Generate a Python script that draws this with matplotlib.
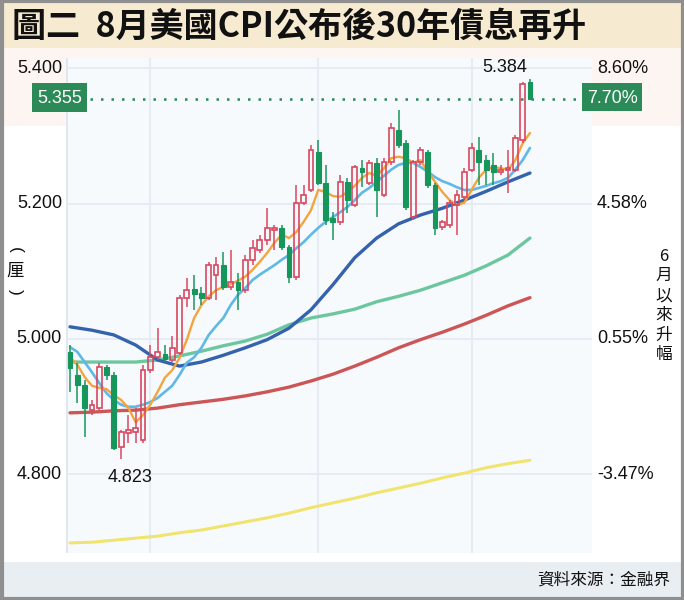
import matplotlib
matplotlib.use("Agg")
import matplotlib.pyplot as plt
from matplotlib.patches import Rectangle
import matplotlib.transforms as mtransforms
import numpy as np

plt.rcParams['font.family'] = ['Liberation Sans', 'Noto Sans CJK TC', 'DejaVu Sans']

TITLE = "圖二  8月美國CPI公布後30年債息再升"
SOURCE = "資料來源：金融界"
Y_UNIT = ["(", "厘", ")"]
RIGHT_LABEL = ["6", "月", "以", "來", "升", "幅"]

OPEN = [4.981, 4.947, 4.932, 4.895, 4.898, 4.959, 4.947, 4.841, 4.861, 4.863,
        4.851, 4.954, 4.973, 4.978, 4.969, 4.979, 5.061, 5.074, 5.068, 5.061,
        5.094, 5.109, 5.077, 5.084, 5.072, 5.117, 5.131, 5.146, 5.161, 5.164,
        5.136, 5.092, 5.201, 5.220, 5.276, 5.230, 5.179, 5.173, 5.232, 5.198,
        5.252, 5.230, 5.260, 5.213, 5.261, 5.308, 5.289, 5.180, 5.261, 5.276,
        5.227, 5.165, 5.168, 5.198, 5.210, 5.249, 5.279, 5.264, 5.257, 5.247,
        5.249, 5.249, 5.294, 5.379]
HIGH = [4.991, 4.965, 4.940, 4.910, 4.965, 4.962, 4.951, 4.866, 4.888, 4.898,
        4.962, 4.991, 5.016, 4.991, 5.004, 5.065, 5.090, 5.094, 5.077, 5.114,
        5.121, 5.128, 5.131, 5.097, 5.124, 5.146, 5.154, 5.193, 5.168, 5.168,
        5.139, 5.227, 5.227, 5.286, 5.294, 5.257, 5.187, 5.242, 5.238, 5.257,
        5.264, 5.264, 5.267, 5.267, 5.319, 5.338, 5.294, 5.264, 5.283, 5.279,
        5.230, 5.176, 5.205, 5.220, 5.252, 5.289, 5.298, 5.272, 5.275, 5.257,
        5.279, 5.301, 5.380, 5.384]
LOW = [4.922, 4.906, 4.855, 4.888, 4.895, 4.940, 4.836, 4.823, 4.847, 4.847,
       4.847, 4.950, 4.969, 4.966, 4.966, 4.976, 5.047, 5.043, 5.050, 5.058,
       5.058, 5.072, 5.072, 5.043, 5.068, 5.109, 5.127, 5.139, 5.131, 5.131,
       5.083, 5.087, 5.198, 5.217, 5.227, 5.168, 5.146, 5.168, 5.186, 5.195,
       5.224, 5.227, 5.180, 5.210, 5.257, 5.282, 5.190, 5.176, 5.257, 5.223,
       5.154, 5.161, 5.164, 5.154, 5.205, 5.247, 5.227, 5.227, 5.227, 5.242,
       5.216, 5.247, 5.289, 5.353]
CLOSE = [4.957, 4.932, 4.898, 4.903, 4.959, 4.947, 4.839, 4.863, 4.866, 4.869,
         4.954, 4.973, 4.981, 4.970, 4.987, 5.061, 5.072, 5.066, 5.061, 5.109,
         5.109, 5.077, 5.084, 5.072, 5.117, 5.134, 5.146, 5.164, 5.164, 5.136,
         5.092, 5.201, 5.213, 5.279, 5.230, 5.176, 5.173, 5.232, 5.205, 5.254,
         5.247, 5.260, 5.220, 5.261, 5.311, 5.286, 5.195, 5.261, 5.279, 5.227,
         5.164, 5.173, 5.201, 5.213, 5.247, 5.282, 5.261, 5.249, 5.247, 5.249,
         5.252, 5.297, 5.376, 5.355]

MA5 = [4.973, 4.962, 4.944, 4.931, 4.928, 4.926, 4.917, 4.910, 4.898, 4.877,
       4.888, 4.903, 4.922, 4.943, 4.954, 4.972, 4.999, 5.031, 5.050, 5.063,
       5.072, 5.077, 5.081, 5.086, 5.092, 5.102, 5.114, 5.127, 5.142, 5.154,
       5.149, 5.158, 5.173, 5.190, 5.220, 5.217, 5.211, 5.210, 5.217, 5.226,
       5.238, 5.245, 5.241, 5.252, 5.267, 5.269, 5.267, 5.260, 5.264, 5.247,
       5.232, 5.217, 5.205, 5.198, 5.201, 5.220, 5.238, 5.250, 5.254, 5.252,
       5.250, 5.264, 5.289, 5.304]
MA10 = [4.988, 4.981, 4.966, 4.951, 4.935, 4.920, 4.910, 4.903, 4.900, 4.900,
        4.903, 4.907, 4.913, 4.922, 4.931, 4.947, 4.965, 4.973, 4.987, 5.006,
        5.019, 5.031, 5.050, 5.065, 5.075, 5.087, 5.095, 5.102, 5.109, 5.117,
        5.124, 5.134, 5.143, 5.154, 5.164, 5.173, 5.180, 5.187, 5.195, 5.205,
        5.216, 5.223, 5.232, 5.241, 5.250, 5.257, 5.260, 5.260, 5.254, 5.247,
        5.239, 5.233, 5.229, 5.224, 5.220, 5.220, 5.223, 5.226, 5.230, 5.233,
        5.238, 5.250, 5.264, 5.282]
LONG_MA_IDX = [0, 3, 6, 9, 12, 15, 18, 21, 24, 27, 30, 33, 36, 39, 42, 45,
               48, 51, 54, 57, 60, 63]
MA20 = [5.018, 5.013, 5.006, 4.991, 4.969, 4.960, 4.966, 4.976, 4.987, 4.999,
        5.016, 5.043, 5.080, 5.120, 5.149, 5.170, 5.183, 5.193, 5.205, 5.218,
        5.232, 5.245]
MA60 = [4.966, 4.966, 4.966, 4.966, 4.969, 4.975, 4.982, 4.990, 4.997, 5.007,
        5.021, 5.031, 5.037, 5.044, 5.055, 5.063, 5.072, 5.083, 5.094, 5.108,
        5.124, 5.149]
MA120 = [4.891, 4.892, 4.894, 4.895, 4.898, 4.903, 4.907, 4.911, 4.916, 4.922,
         4.929, 4.938, 4.948, 4.960, 4.973, 4.987, 4.999, 5.010, 5.022, 5.035,
         5.049, 5.061]
MA250 = [4.699, 4.700, 4.703, 4.706, 4.709, 4.714, 4.718, 4.724, 4.730, 4.736,
         4.743, 4.751, 4.758, 4.765, 4.773, 4.780, 4.787, 4.795, 4.802, 4.810,
         4.816, 4.821]

LEFT_TICKS = [5.4, 5.2, 5.0, 4.8]
LEFT_TICK_LABELS = ["5.400", "5.200", "5.000", "4.800"]
RIGHT_TICK_LABELS = ["8.60%", "4.58%", "0.55%", "-3.47%"]
LAST_PRICE = 5.355
LAST_PRICE_LABEL = "5.355"
LAST_PCT_LABEL = "7.70%"
HIGH_LABEL = "5.384"
LOW_LABEL = "4.823"
MONTH_IDX = [11, 34, 55]

RED = '#d8485f'
GREEN = '#17965b'
BOXGREEN = '#2b8a57'

W, H = 684, 600
fig = plt.figure(figsize=(W / 100, H / 100), dpi=100)
fig.patch.set_facecolor('white')


def fx(px):
    return px / W


def fy(py):
    return 1 - py / H


def frect(x0, y0, x1, y1, **kw):
    r = Rectangle((fx(x0), fy(y1)), fx(x1) - fx(x0), fy(y0) - fy(y1),
                  transform=fig.transFigure, **kw)
    fig.add_artist(r)
    return r


# background bands
frect(0, 48, W, 126, facecolor='#fdf5f2', edgecolor='none', zorder=-2)
frect(3, 3, W - 3, 48, facecolor='#f6ebd1', edgecolor='none', zorder=-1)
frect(3, 562, W - 3, H - 3, facecolor='#e9eef3', edgecolor='none', zorder=-1)

ax = fig.add_axes([fx(66), fy(553), fx(592) - fx(66), fy(58) - fy(553)])
ax.set_facecolor('#f7fafd')
ax.set_xlim(-0.55, 71.5)
ax.set_ylim(4.6841, 5.4148)
for s in ax.spines.values():
    s.set_visible(False)
ax.set_xticks([])
ax.set_yticks([])
ax.axvline(-0.45, color='#dce4ee', lw=1.2, zorder=0.5)

for v in LEFT_TICKS:
    ax.axhline(v, color='#e3eaf3', lw=1.2, zorder=0.5)
for m in MONTH_IDX:
    ax.axvline(m, color='#e3eaf3', lw=1.2, zorder=0.5)

n = len(OPEN)
xs = np.arange(n)
o, h, l, c = (np.array(a) for a in (OPEN, HIGH, LOW, CLOSE))

# moving averages
ax.plot(LONG_MA_IDX, MA250, color='#f1e46e', lw=2.2, zorder=2, solid_capstyle='round')
ax.plot(LONG_MA_IDX, MA120, color='#cc5656', lw=2.4, zorder=2, solid_capstyle='round')
ax.plot(LONG_MA_IDX, MA60, color='#6cc79f', lw=2.4, zorder=2, solid_capstyle='round')
ax.plot(LONG_MA_IDX, MA20, color='#3462ad', lw=2.4, zorder=2, solid_capstyle='round')
ax.plot(xs, MA10, color='#5fb8e6', lw=1.9, zorder=2, solid_capstyle='round')
ax.plot(xs, MA5, color='#f4a43f', lw=1.7, zorder=2, solid_capstyle='round')

# candles
bw = 0.66
for i in range(n):
    top = max(o[i], c[i])
    bot = min(o[i], c[i])
    hgt = max(top - bot, 0.0018)
    if c[i] >= o[i]:
        ax.vlines(i, bot + hgt, h[i], color=RED, lw=1.1, zorder=4)
        ax.vlines(i, l[i], bot, color=RED, lw=1.1, zorder=4)
        ax.add_patch(Rectangle((i - bw / 2, bot), bw, hgt, facecolor='none',
                               edgecolor=RED, lw=1.2, zorder=4))
    else:
        ax.vlines(i, l[i], h[i], color=GREEN, lw=1.1, zorder=4)
        ax.add_patch(Rectangle((i - bw / 2, bot), bw, hgt, facecolor=GREEN,
                               edgecolor=GREEN, lw=0.8, zorder=4))

# high / low labels
ih = int(np.argmax(h))
il = int(np.argmin(l))
ax.annotate(HIGH_LABEL, xy=(ih, h[ih]), xytext=(-18, 8), textcoords='offset points',
            ha='center', va='center', fontsize=13, color='#111111', zorder=6)
ax.annotate(LOW_LABEL, xy=(il, l[il]), xytext=(6.5, -13.5), textcoords='offset points',
            ha='center', va='center', fontsize=13, color='#111111', zorder=6)

# dotted last price line
bl = mtransforms.blended_transform_factory(fig.transFigure, ax.transData)
ax.plot([fx(90), fx(580)], [LAST_PRICE, LAST_PRICE], transform=bl, clip_on=False,
        color=BOXGREEN, lw=1.8, linestyle=(0, (1, 3.2)), zorder=5)

# axis labels
for v, lab, rlab in zip(LEFT_TICKS, LEFT_TICK_LABELS, RIGHT_TICK_LABELS):
    fig.text(fx(62), v, lab, transform=bl, ha='right', va='center', fontsize=13,
             color='#111111')
    fig.text(fx(597), v, rlab, transform=bl, ha='left', va='center', fontsize=13,
             color='#111111')

# last price boxes
frect(32, 83, 87, 112, facecolor=BOXGREEN, edgecolor='none', zorder=6)
fig.text(fx(59.5), LAST_PRICE, LAST_PRICE_LABEL, transform=bl, ha='center',
         va='center', fontsize=13, color='white', zorder=7)
frect(582, 83, 642, 111, facecolor=BOXGREEN, edgecolor='none', zorder=6)
fig.text(fx(612), LAST_PRICE, LAST_PCT_LABEL, transform=bl, ha='center',
         va='center', fontsize=13, color='white', zorder=7)

# unit label (vertical)
fig.text(fx(15), fy(250), Y_UNIT[0], rotation=-90, ha='center', va='center',
         fontsize=12.5, color='#111111')
fig.text(fx(15), fy(271), Y_UNIT[1], ha='center', va='center',
         fontsize=12.5, color='#111111', family=['Noto Sans CJK TC'])
fig.text(fx(15), fy(292), Y_UNIT[2], rotation=-90, ha='center', va='center',
         fontsize=12.5, color='#111111')

# right vertical label
for k, ch in enumerate(RIGHT_LABEL):
    fig.text(fx(664), fy(256 + 19.8 * k), ch, ha='center', va='center',
             fontsize=12, color='#111111', family=['Noto Sans CJK TC', 'DejaVu Sans'])

# title & source
fig.text(fx(12), fy(26), TITLE, ha='left', va='center', fontsize=24.5,
         fontweight='black', color='#111111', family=['Noto Sans CJK TC', 'DejaVu Sans'])
fig.text(fx(670), fy(580), SOURCE, ha='right', va='center', fontsize=12,
         color='#111111', family=['Noto Sans CJK TC', 'DejaVu Sans'])

# outer frame
frect(1.5, 1.5, W - 1.5, H - 1.5, facecolor='none', edgecolor='#8f8f8f', lw=3, zorder=10)

fig.savefig('out.png', dpi=100)
